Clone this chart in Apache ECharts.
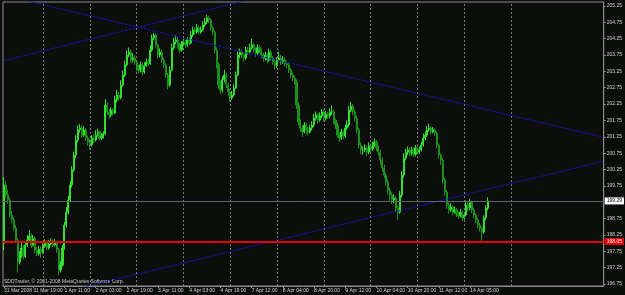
<!DOCTYPE html>
<html><head><meta charset="utf-8">
<script src="https://cdn.jsdelivr.net/npm/echarts@6/dist/echarts.min.js"></script>
<style>html,body{margin:0;padding:0;background:#0c0e0c;}#c{width:625px;height:295px;}</style>
</head><body><div id="c"></div>
<script>
// ---- data (hourly candles, 31 Mar 2008 .. 14 Apr 2008) ----
var firstOpen = 198.00;
var closes = [
199.78,199.47,199.32,198.86,198.71,198.46,198.09,197.42,197.64,197.85,
197.60,197.94,198.09,198.22,197.94,198.15,197.79,197.67,197.82,197.73,
197.91,198.00,197.85,197.97,198.06,197.94,198.00,197.79,197.18,197.33,
197.85,198.55,198.95,199.32,199.78,200.24,200.69,201.15,201.46,201.52,
201.30,201.46,201.21,201.09,201.00,201.21,201.15,201.30,201.40,201.21,
201.27,201.34,202.22,202.01,201.92,202.07,201.98,202.38,202.53,202.44,
202.83,203.14,203.45,203.75,203.84,203.60,203.66,203.54,203.35,203.29,
203.45,203.23,203.42,203.54,203.48,203.90,204.27,204.36,204.06,203.75,
203.84,203.60,203.45,203.14,202.83,203.29,203.97,204.15,204.21,204.06,
203.90,204.09,204.15,204.06,204.21,204.12,204.36,204.52,204.45,204.58,
204.45,204.52,204.67,204.76,204.88,204.82,204.58,204.45,203.90,203.45,
202.83,202.68,202.99,203.14,202.83,202.62,202.44,202.53,202.74,203.14,
203.75,203.84,203.75,203.66,203.90,203.84,203.97,204.06,203.90,203.81,
203.97,203.90,203.75,203.66,203.75,203.60,203.84,203.66,203.54,203.42,
203.60,203.66,203.54,203.60,203.48,203.45,203.29,203.14,203.05,202.93,
202.22,201.70,201.52,201.40,201.61,201.46,201.40,201.52,201.61,201.82,
201.92,201.76,201.89,202.01,201.82,201.95,201.89,202.01,202.01,201.76,
201.61,201.30,201.21,201.40,201.27,201.52,201.61,202.07,202.19,202.01,
201.82,201.46,201.00,200.85,200.85,200.91,200.78,200.97,200.88,201.00,
201.09,200.91,200.78,200.54,200.30,200.08,199.87,199.62,199.47,199.32,
199.38,199.07,198.95,199.47,200.08,200.60,200.78,200.85,200.75,200.85,
200.72,200.91,200.78,200.85,201.00,201.21,201.30,201.46,201.52,201.40,
201.46,201.37,201.00,200.69,200.54,199.93,199.56,199.16,199.01,199.10,
198.95,199.01,198.89,198.83,198.95,198.77,198.86,199.16,199.07,199.24,
199.01,198.86,198.71,198.55,198.46,198.34,198.77,199.07,199.29
];
var highs = [
200.02,199.90,199.62,199.40,198.98,198.80,198.55,198.15,197.75,198.00,
197.95,198.05,198.25,198.40,198.30,198.25,198.20,197.88,197.92,197.90,
198.00,198.12,198.08,198.10,198.15,198.12,198.12,198.08,197.85,197.45,
197.95,198.65,199.10,199.45,199.90,200.35,200.80,201.30,201.60,201.65,
201.60,201.58,201.52,201.28,201.18,201.30,201.32,201.45,201.50,201.45,
201.36,201.42,202.40,202.30,202.10,202.15,202.12,202.50,202.68,202.62,
202.98,203.28,203.58,203.90,203.98,203.92,203.80,203.75,203.60,203.45,
203.55,203.52,203.52,203.65,203.62,204.05,204.38,204.42,204.40,204.10,
203.95,203.90,203.68,203.50,203.20,203.40,204.10,204.28,204.35,204.30,
204.12,204.18,204.25,204.22,204.30,204.28,204.48,204.62,204.60,204.70,
204.65,204.62,204.78,204.88,204.98,204.95,204.88,204.65,204.50,203.98,
203.52,202.95,203.10,203.30,203.20,202.90,202.70,202.65,202.85,203.25,
203.85,203.95,203.92,203.82,204.00,204.00,204.10,204.25,204.12,203.98,
204.08,204.05,203.95,203.82,203.85,203.82,203.95,203.90,203.72,203.60,
203.68,203.85,203.75,203.72,203.68,203.58,203.52,203.35,203.22,203.12,
203.00,202.30,201.78,201.60,201.70,201.68,201.55,201.62,201.72,201.95,
202.02,201.98,202.00,202.10,202.08,202.05,202.02,202.12,202.20,202.08,
201.82,201.68,201.38,201.50,201.45,201.62,201.75,202.20,202.32,202.25,
202.08,201.88,201.52,201.08,200.95,201.02,200.98,201.08,201.05,201.10,
201.20,201.15,200.98,200.85,200.62,200.40,200.15,199.95,199.70,199.55,
199.50,199.45,199.15,199.60,200.20,200.75,200.88,200.95,200.92,200.95,
200.92,201.00,200.98,200.95,201.10,201.35,201.42,201.58,201.65,201.58,
201.55,201.52,201.42,201.05,200.75,200.60,200.00,199.62,199.25,199.22,
199.15,199.12,199.08,198.95,199.05,199.00,198.95,199.30,199.25,199.35,
199.30,199.08,198.92,198.78,198.62,198.52,198.85,199.15,199.40
];
var lows = [
197.79,199.38,199.20,198.78,198.60,198.38,198.00,197.10,197.35,197.55,
197.50,197.55,197.88,198.02,197.85,197.90,197.70,197.60,197.62,197.55,
197.68,197.85,197.78,197.80,197.92,197.88,197.90,197.70,197.02,197.10,
197.28,197.80,198.48,198.88,199.25,199.70,200.18,200.60,201.08,201.38,
201.22,201.25,201.12,200.98,200.85,200.95,201.05,201.10,201.25,201.15,
201.15,201.20,201.30,201.92,201.80,201.85,201.90,201.95,202.30,202.35,
202.40,202.78,203.08,203.40,203.68,203.50,203.52,203.45,203.25,203.18,
203.22,203.12,203.18,203.38,203.40,203.45,203.85,204.20,203.98,203.65,
203.68,203.50,203.35,203.05,202.70,202.78,203.25,203.90,204.08,203.95,
203.80,203.85,204.02,203.98,204.00,204.05,204.08,204.30,204.38,204.40,
204.38,204.40,204.48,204.60,204.70,204.72,204.50,204.35,203.80,203.35,
202.72,202.55,202.60,202.92,202.75,202.50,202.31,202.38,202.48,202.70,
203.10,203.65,203.65,203.55,203.60,203.75,203.78,203.92,203.82,203.70,
203.75,203.82,203.65,203.55,203.58,203.50,203.55,203.58,203.45,203.30,
203.35,203.55,203.45,203.48,203.40,203.35,203.20,203.05,202.95,202.85,
202.10,201.60,201.40,201.25,201.35,201.35,201.30,201.35,201.45,201.55,
201.75,201.65,201.70,201.82,201.72,201.75,201.80,201.82,201.92,201.65,
201.50,201.22,201.10,201.15,201.18,201.22,201.45,201.55,202.00,201.92,
201.72,201.35,200.90,200.72,200.70,200.78,200.65,200.72,200.78,200.82,
200.95,200.82,200.68,200.40,200.18,199.98,199.75,199.50,199.30,199.20,
199.22,198.95,198.71,198.90,199.40,200.00,200.52,200.70,200.65,200.68,
200.62,200.65,200.70,200.72,200.80,200.95,201.15,201.25,201.40,201.32,
201.35,201.28,200.90,200.58,200.40,199.82,199.45,199.05,198.90,198.95,
198.85,198.90,198.80,198.75,198.78,198.68,198.72,198.82,198.98,199.00,
198.92,198.75,198.60,198.45,198.35,198.06,198.28,198.70,199.00
];
var totalSlots = 308; // visible bar slots incl. empty space on the right
var xTickLabels = ["31 Mar 2008","31 Mar 19:00","1 Apr 11:00","2 Apr 03:00","2 Apr 19:00","3 Apr 11:00","4 Apr 03:00","4 Apr 19:00","7 Apr 12:00","8 Apr 04:00","8 Apr 20:00","9 Apr 12:00","10 Apr 04:00","10 Apr 20:00","11 Apr 12:00","14 Apr 05:00"];
var xTickBars = [0,15,31,47,63,79,95,111,127,143,159,175,191,207,223,239];
var daySeparatorBars = [20,44,68,92,116,140,164,188,212,236,260];
var yTickValues = [196.75,197.25,197.75,198.25,198.75,199.75,200.25,200.75,201.25,201.75,202.25,202.75,203.25,203.75,204.25,204.75,205.25];
var bidPrice = 199.29;
var levelPrice = 198.05;
var trendDown = [[0,205.57],[307,201.24]];
var trendUpHigh = [[0,203.58],[160,205.95]];
var trendUpLow = [[30,196.50],[307,200.50]];
var copyright = "SDDTrader, \u00a9 2001-2008 MetaQuotes Software Corp.";

// ---- build ----
var cats = [];
for (var i = 0; i < totalSlots; i++) cats.push(String(i));
var ohlc = [];
var prev = firstOpen;
for (var j = 0; j < closes.length; j++) {
  ohlc.push([prev, closes[j], lows[j], highs[j]]);
  prev = closes[j];
}
var labelMap = {};
xTickBars.forEach(function (b, k) { labelMap[b] = xTickLabels[k]; });

var chart = echarts.init(document.getElementById('c'), null, {renderer: 'canvas'});
var FONT = 'Liberation Sans';
var trendStyle = {color: '#1414b4', width: 1, type: [3, 1]};
chart.setOption({
  backgroundColor: '#0c0e0c',
  animation: false,
  grid: {left: 3, right: 19, top: 2, bottom: 9, show: true, borderColor: '#8c8c8c', borderWidth: 1},
  xAxis: {
    type: 'category', data: cats, boundaryGap: true,
    axisLine: {show: true, lineStyle: {color: '#8c8c8c'}},
    axisTick: {show: true, alignWithLabel: true, length: 2, lineStyle: {color: '#8c8c8c'},
      interval: function (idx) { return labelMap[idx] !== undefined; }},
    axisLabel: {
      interval: function (idx) { return labelMap[idx] !== undefined; },
      formatter: function (v, idx) { return labelMap[idx] || ''; },
      showMinLabel: true,
      color: '#d0d0d0', fontSize: 5, fontFamily: FONT, align: 'left', margin: 2, hideOverlap: false
    },
    splitLine: {show: false}
  },
  yAxis: {
    type: 'value', position: 'right', min: 196.69, max: 205.37, scale: true,
    axisLine: {show: true, lineStyle: {color: '#8c8c8c'}},
    axisTick: {show: true, length: 2, customValues: yTickValues, lineStyle: {color: '#8c8c8c'}},
    axisLabel: {customValues: yTickValues, color: '#d0d0d0', fontSize: 5, fontFamily: FONT, margin: 3,
      formatter: function (v) { return v.toFixed(2); }},
    splitLine: {show: false}
  },
  graphic: [{type: 'text', left: 4, top: 279, silent: true,
    style: {text: copyright, fill: '#c8c8c8', font: '5px ' + FONT}}],
  series: [
    {
      type: 'line', data: [], silent: true,
      markLine: {silent: true, symbol: 'none', animation: false,
        lineStyle: {color: '#7a7a7a', type: [2, 2], width: 1},
        label: {show: false},
        data: daySeparatorBars.map(function (b) { return {xAxis: b}; })}
    },
    {
      type: 'candlestick', data: ohlc, barWidth: 1.6,
      itemStyle: {color: '#2fe02f', color0: '#1c8f1c', borderColor: '#2fe02f', borderColor0: '#1c8f1c', borderWidth: 1},
      markLine: {silent: true, symbol: 'none', animation: false,
        data: [
          {yAxis: bidPrice, lineStyle: {color: '#5c646c', width: 1, type: 'solid'},
           label: {show: true, position: 'end', distance: 1, formatter: bidPrice.toFixed(2), color: '#000', backgroundColor: '#ffffff', fontSize: 5, fontFamily: FONT, padding: [1, 2]}},
          {yAxis: levelPrice, lineStyle: {color: '#e80000', width: 2, type: 'solid'},
           label: {show: true, position: 'end', distance: 1, formatter: levelPrice.toFixed(2), color: '#ffffff', backgroundColor: '#e80000', fontSize: 5, fontFamily: FONT, padding: [1, 2]}}
        ]}
    },
    {type: 'line', data: trendDown, showSymbol: false, clip: true, silent: true, lineStyle: trendStyle},
    {type: 'line', data: trendUpHigh, showSymbol: false, clip: true, silent: true, lineStyle: trendStyle},
    {type: 'line', data: trendUpLow, showSymbol: false, clip: true, silent: true, lineStyle: trendStyle}
  ]
});
</script></body></html>
